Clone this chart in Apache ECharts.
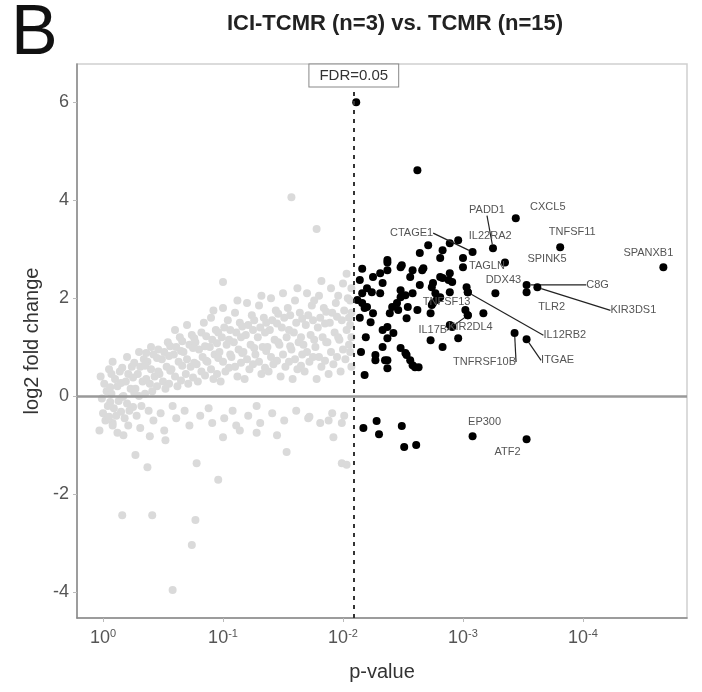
<!DOCTYPE html>
<html>
<head>
<meta charset="utf-8">
<script src="https://cdn.jsdelivr.net/npm/echarts@6/dist/echarts.min.js"></script>
<style>
  html, body { margin: 0; padding: 0; background: #fff; }
  #chart { width: 702px; height: 692px; }
</style>
</head>
<body>
<div id="chart"></div>
<script>
// x = -log10(p-value), y = log2 fold change
const xTicks = [0, 1, 2, 3, 4];
const yTicks = [-4, -2, 0, 2, 4, 6];
const fdrLine = 2.09;

// non-significant genes (grey cloud)
const greyPoints = [
  [-0.03, -0.7], [0.02, -0.5], [0.0, -0.35], [0.04, -0.2], [-0.01, -0.05], [0.03, 0.1], [0.01, 0.25], [-0.02, 0.4], [0.05, 0.55],
  [0.12, -0.75], [0.08, -0.55], [0.11, -0.4], [0.09, -0.25], [0.13, -0.1], [0.07, 0.05], [0.12, 0.2], [0.1, 0.35], [0.14, 0.5], [0.08, 0.7],
  [0.21, -0.6], [0.18, -0.45], [0.22, -0.3], [0.2, -0.15], [0.17, 0.0], [0.23, 0.15], [0.19, 0.3], [0.21, 0.45], [0.24, 0.6], [0.2, 0.8],
  [0.31, -0.65], [0.28, -0.4], [0.32, -0.2], [0.3, 0.0], [0.27, 0.15], [0.33, 0.3], [0.29, 0.45], [0.31, 0.6], [0.34, 0.75], [0.3, 0.9],
  [0.42, -0.5], [0.38, -0.3], [0.41, 0.1], [0.39, 0.25], [0.43, 0.4], [0.4, 0.55], [0.37, 0.7], [0.42, 0.85], [0.4, 1.0],
  [0.51, -0.7], [0.48, -0.35], [0.52, 0.15], [0.5, 0.3], [0.47, 0.45], [0.53, 0.6], [0.49, 0.75], [0.51, 0.9], [0.54, 1.1],
  [0.61, -0.45], [0.58, -0.2], [0.62, 0.2], [0.6, 0.4], [0.57, 0.55], [0.63, 0.7], [0.59, 0.85], [0.61, 1.0], [0.64, 1.2], [0.6, 1.35],
  [0.72, -0.6], [0.68, -0.3], [0.71, 0.25], [0.69, 0.45], [0.73, 0.6], [0.7, 0.75], [0.67, 0.9], [0.72, 1.05], [0.74, 1.25], [0.7, 1.45],
  [0.81, -0.4], [0.79, 0.3], [0.82, 0.5], [0.78, 0.65], [0.83, 0.8], [0.8, 0.95], [0.77, 1.1], [0.82, 1.3], [0.84, 1.5],
  [0.91, -0.55], [0.88, -0.25], [0.92, 0.35], [0.9, 0.55], [0.87, 0.7], [0.93, 0.85], [0.89, 1.0], [0.91, 1.15], [0.94, 1.35], [0.9, 1.6], [0.92, 1.75],
  [1.01, -0.45], [0.98, 0.3], [1.02, 0.5], [1.0, 0.7], [0.97, 0.9], [1.03, 1.05], [0.99, 1.2], [1.01, 1.4], [1.04, 1.55], [1.0, 1.8], [1.0, 2.33],
  [1.11, -0.6], [1.08, -0.3], [1.12, 0.4], [1.1, 0.6], [1.07, 0.8], [1.13, 0.95], [1.09, 1.1], [1.11, 1.3], [1.14, 1.5], [1.1, 1.7], [1.12, 1.95],
  [1.21, -0.4], [1.18, 0.35], [1.22, 0.55], [1.2, 0.75], [1.17, 0.9], [1.23, 1.05], [1.19, 1.25], [1.21, 1.45], [1.24, 1.65], [1.2, 1.9],
  [1.31, -0.55], [1.28, -0.2], [1.32, 0.45], [1.3, 0.7], [1.27, 0.85], [1.33, 1.0], [1.29, 1.2], [1.31, 1.4], [1.34, 1.6], [1.3, 1.85], [1.32, 2.05],
  [1.41, -0.35], [1.38, 0.5], [1.42, 0.65], [1.4, 0.8], [1.37, 1.0], [1.43, 1.15], [1.39, 1.35], [1.41, 1.55], [1.44, 1.75], [1.4, 2.0],
  [1.51, -0.5], [1.48, 0.4], [1.52, 0.6], [1.5, 0.85], [1.47, 1.05], [1.53, 1.2], [1.49, 1.4], [1.51, 1.6], [1.54, 1.8], [1.5, 2.1],
  [1.61, -0.3], [1.58, 0.35], [1.62, 0.55], [1.6, 0.75], [1.57, 0.95], [1.63, 1.1], [1.59, 1.3], [1.61, 1.5], [1.64, 1.7], [1.6, 1.95], [1.62, 2.2],
  [1.71, -0.45], [1.68, 0.5], [1.72, 0.7], [1.7, 0.9], [1.67, 1.05], [1.73, 1.25], [1.69, 1.45], [1.71, 1.65], [1.74, 1.85], [1.7, 2.1],
  [1.81, -0.55], [1.78, 0.35], [1.82, 0.6], [1.8, 0.8], [1.77, 1.0], [1.83, 1.2], [1.79, 1.4], [1.81, 1.6], [1.84, 1.8], [1.8, 2.05], [1.82, 2.35],
  [1.91, -0.35], [1.88, 0.45], [1.92, 0.65], [1.9, 0.9], [1.87, 1.1], [1.93, 1.3], [1.89, 1.5], [1.91, 1.7], [1.94, 1.9], [1.9, 2.2],
  [2.01, -0.4], [1.98, 0.5], [2.02, 0.75], [2.0, 0.95], [1.97, 1.15], [2.03, 1.35], [1.99, 1.55], [2.01, 1.75], [2.04, 2.0], [2.0, 2.3], [2.03, 2.5],
  [2.07, 0.6], [2.06, 0.9], [2.07, 1.2], [2.06, 1.45], [2.07, 1.7], [2.06, 1.95], [2.07, 2.2],
  [1.57, 4.06], [1.78, 3.41], [1.72, -0.42], [1.88, -0.5], [1.99, -0.55],
  [0.08, -0.6], [0.17, -0.8], [0.39, -0.82], [0.52, -0.9], [1.0, -0.84], [1.14, -0.7], [1.28, -0.75], [1.45, -0.8], [1.92, -0.84],
  [1.53, -1.14], [0.27, -1.2], [0.37, -1.45], [0.78, -1.37], [2.03, -1.4], [1.99, -1.37], [0.96, -1.71],
  [0.16, -2.43], [0.41, -2.43], [0.77, -2.53], [0.74, -3.04], [0.58, -3.96],
  // denser core of the cloud
  [0.05, -0.42], [0.06, -0.12], [0.06, 0.18], [0.07, 0.45], [0.15, -0.32], [0.16, -0.02], [0.15, 0.27], [0.16, 0.58],
  [0.25, -0.22], [0.26, 0.07], [0.25, 0.38], [0.26, 0.68], [0.35, 0.05], [0.36, 0.35], [0.35, 0.62], [0.36, 0.88],
  [0.45, 0.2], [0.46, 0.5], [0.45, 0.78], [0.46, 0.95], [0.55, 0.25], [0.56, 0.52], [0.55, 0.82], [0.56, 1.02],
  [0.65, 0.32], [0.66, 0.62], [0.65, 0.92], [0.66, 1.12], [0.75, 0.38], [0.76, 0.68], [0.75, 0.98], [0.76, 1.18],
  [0.85, 0.42], [0.86, 0.72], [0.85, 1.02], [0.86, 1.22], [0.95, 0.45], [0.96, 0.78], [0.95, 1.08], [0.96, 1.3],
  [1.05, 0.58], [1.06, 0.85], [1.05, 1.15], [1.06, 1.35], [1.15, 0.68], [1.16, 0.88], [1.15, 1.2], [1.16, 1.42],
  [1.25, 0.65], [1.26, 0.98], [1.25, 1.35], [1.26, 1.55], [1.35, 0.58], [1.36, 0.92], [1.35, 1.3], [1.36, 1.5],
  [1.45, 0.72], [1.46, 1.1], [1.45, 1.48], [1.46, 1.68], [1.55, 0.7], [1.56, 1.02], [1.55, 1.35], [1.56, 1.65],
  [1.65, 0.62], [1.66, 0.85], [1.65, 1.2], [1.66, 1.58], [1.75, 0.8], [1.76, 1.15], [1.75, 1.55], [1.76, 1.95],
  [1.85, 0.72], [1.86, 1.1], [1.85, 1.48], [1.86, 1.72], [1.95, 0.8], [1.96, 1.2], [1.95, 1.62], [1.96, 2.05],
  [2.05, 1.05], [2.05, 1.6]
];

// significant genes (FDR < 0.05), unlabeled
const sigPoints = [
  [2.11, 6.0], [2.62, 4.61], [2.89, 3.12], [2.83, 2.98], [2.81, 2.82], [2.71, 3.08], [2.64, 2.92], [3.0, 2.82],
  [3.04, 2.12], [2.89, 2.51], [2.88, 2.37], [2.81, 2.43], [2.74, 2.22], [2.67, 2.61], [2.58, 2.57], [2.48, 2.63],
  [2.37, 2.78], [2.37, 2.57], [2.48, 2.02], [2.54, 1.82], [3.04, 1.65], [2.91, 1.41], [2.73, 1.14], [2.96, 1.18],
  [2.83, 1.0], [2.42, 1.29], [2.37, 0.73], [2.58, 0.63], [2.52, 0.88], [2.37, 1.41], [2.46, 1.76], [2.74, 1.86],
  [2.77, 2.1], [2.49, 2.67], [2.66, 2.57], [2.83, 2.41], [2.14, 2.37], [2.25, 2.43], [2.31, 2.51], [2.33, 2.31],
  [2.56, 2.43], [2.64, 2.27], [2.75, 2.31], [2.91, 2.33], [2.48, 2.16], [2.58, 2.1], [2.52, 2.06], [2.24, 2.12],
  [2.31, 2.1], [2.16, 2.1], [2.12, 1.96], [2.16, 1.9], [2.18, 1.8], [2.25, 1.69], [2.39, 1.69], [2.41, 1.82],
  [2.45, 1.9], [2.62, 1.76], [2.53, 1.59], [2.75, 1.9], [2.78, 1.96], [2.81, 2.02], [2.89, 2.12], [2.73, 1.69],
  [3.02, 1.76], [2.2, 1.82], [2.23, 1.51], [2.33, 1.35], [2.37, 1.18], [2.33, 1.0], [2.48, 0.98], [2.53, 0.84],
  [2.56, 0.73], [2.6, 0.59], [2.63, 0.59], [2.27, 0.84], [2.27, 0.73], [2.35, 0.73], [2.37, 0.57], [2.18, 0.43],
  [2.89, 1.45], [2.37, 2.73], [2.16, 2.6], [2.2, 2.2], [2.14, 1.6], [2.19, 1.2], [2.15, 0.9],
  [2.28, -0.51], [2.17, -0.65], [2.3, -0.78], [2.49, -0.61], [2.51, -1.04], [2.61, -1.0]
];

// labelled significant genes
const geneNames = ['PADD1', 'CXCL5', 'CTAGE1', 'IL22RA2', 'TNFSF11', 'SPANXB1', 'SPINK5', 'TAGLN', 'DDX43',
  'C8G', 'KIR3DS1', 'TLR2', 'IL12RB2', 'TNFSF13', 'IL17B', 'KIR2DL4', 'TNFRSF10B', 'ITGAE', 'EP300', 'ATF2'];
const geneX = [3.25, 3.44, 3.08, 2.96, 3.81, 4.67, 3.35, 3.0, 3.27,
  3.53, 3.62, 3.53, 3.04, 3.03, 3.04, 3.17, 3.43, 3.53, 3.08, 3.53];
const geneY = [3.02, 3.63, 2.94, 3.18, 3.04, 2.63, 2.73, 2.63, 2.1,
  2.27, 2.22, 2.12, 2.12, 2.22, 1.65, 1.69, 1.29, 1.16, -0.82, -0.88];

// label placement (px offset from the point) and whether a leader line is drawn
const labelPlace = {
  PADD1: [-6, -38, true], CXCL5: [32, -11, false], CTAGE1: [-61, -19, true], IL22RA2: [32, -4, false],
  TNFSF11: [12, -15, false], SPANXB1: [-15, -14, false], SPINK5: [42, -3, false], TAGLN: [24, -1, false],
  DDX43: [8, -13, false], C8G: [71, 0, true], KIR3DS1: [96, 23, true], TLR2: [25, 15, false],
  IL12RB2: [97, 43, true], TNFSF13: [-20, 15, false], IL17B: [-35, 15, true], KIR2DL4: [-13, 14, false],
  TNFRSF10B: [-30, 29, true], ITGAE: [31, 21, true], EP300: [12, -14, false], ATF2: [-19, 13, false]
};

const font = 'Liberation Sans, Arial, sans-serif';
const chart = echarts.init(document.getElementById('chart'));

const geneData = geneNames.map((n, i) => ({
  name: n,
  value: [geneX[i], geneY[i]],
  labelLine: { show: labelPlace[n][2] }
}));

const option = {
  animation: false,
  textStyle: { fontFamily: font },
  title: {
    text: 'ICI-TCMR (n=3) vs. TCMR (n=15)',
    left: 390, top: 8, textAlign: 'center',
    textStyle: { fontSize: 22, fontWeight: 'bold', color: '#222', fontFamily: font }
  },
  graphic: [{
    type: 'text', left: 11, top: 0,
    style: { text: 'B', fontSize: 70, fontFamily: font, fill: '#111' }
  }],
  grid: { left: 77, right: 15, top: 64, bottom: 74, show: true, borderColor: '#d0d0d0', borderWidth: 1.5 },
  xAxis: {
    type: 'value', min: -0.217, max: 4.867,
    name: 'p-value', nameLocation: 'middle', nameGap: 44,
    nameTextStyle: { fontSize: 20, color: '#333', fontFamily: font },
    axisLine: { show: true, onZero: false, lineStyle: { color: '#888', width: 1.5 } },
    axisTick: { show: true, customValues: xTicks, length: 4, lineStyle: { color: '#bbb' } },
    splitLine: { show: false },
    axisLabel: {
      customValues: xTicks, margin: 10,
      formatter: v => '{b|10}{s|' + (v === 0 ? '0' : '-' + v) + '}',
      rich: {
        b: { fontSize: 18, color: '#555', fontFamily: font },
        s: { fontSize: 11, color: '#555', fontFamily: font, padding: [0, 0, 10, 0] }
      }
    }
  },
  yAxis: {
    type: 'value', min: -4.53, max: 6.78,
    name: 'log2 fold change', nameLocation: 'middle', nameGap: 30, nameRotate: 90,
    nameTextStyle: { fontSize: 20, color: '#333', fontFamily: font },
    axisLine: { show: true, onZero: false, lineStyle: { color: '#888', width: 1.5 } },
    axisTick: { show: true, customValues: yTicks, length: 4, lineStyle: { color: '#bbb' } },
    splitLine: { show: false },
    axisLabel: { customValues: yTicks, fontSize: 18, color: '#555', margin: 8, fontFamily: font }
  },
  series: [
    {
      type: 'scatter', name: 'ns', data: greyPoints, symbol: 'circle', symbolSize: 8,
      itemStyle: { color: '#dadada', opacity: 1 }, silent: true, z: 2,
      markLine: {
        silent: true, symbol: 'none', animation: false,
        data: [
          { yAxis: 0, lineStyle: { color: '#999', width: 2.5, type: 'solid' }, label: { show: false } },
          [
            { coord: [fdrLine, -4.53], lineStyle: { color: '#333', width: 2, type: [4, 5] } },
            {
              coord: [fdrLine, 6.3],
              label: {
                show: true, position: 'end', formatter: 'FDR=0.05', distance: 1,
                fontSize: 15, color: '#333', fontFamily: font, backgroundColor: '#fff',
                borderColor: '#888', borderWidth: 1, padding: [4, 10, 3, 10]
              }
            }
          ]
        ]
      }
    },
    {
      type: 'scatter', name: 'sig', data: sigPoints, symbolSize: 8,
      itemStyle: { color: '#000', opacity: 1 }, silent: true, z: 4
    },
    {
      type: 'scatter', name: 'genes', data: geneData, symbolSize: 8,
      itemStyle: { color: '#000', opacity: 1 }, silent: true, z: 5,
      label: {
        show: true, formatter: p => p.name, position: 'inside',
        fontSize: 11, color: '#555', fontFamily: font
      },
      labelLine: { show: true, lineStyle: { color: '#222', width: 1.2 } },
      labelLayout: p => {
        const pl = labelPlace[geneNames[p.dataIndex]];
        return { dx: pl[0], dy: pl[1] };
      }
    }
  ]
};

chart.setOption(option);
</script>
</body>
</html>
